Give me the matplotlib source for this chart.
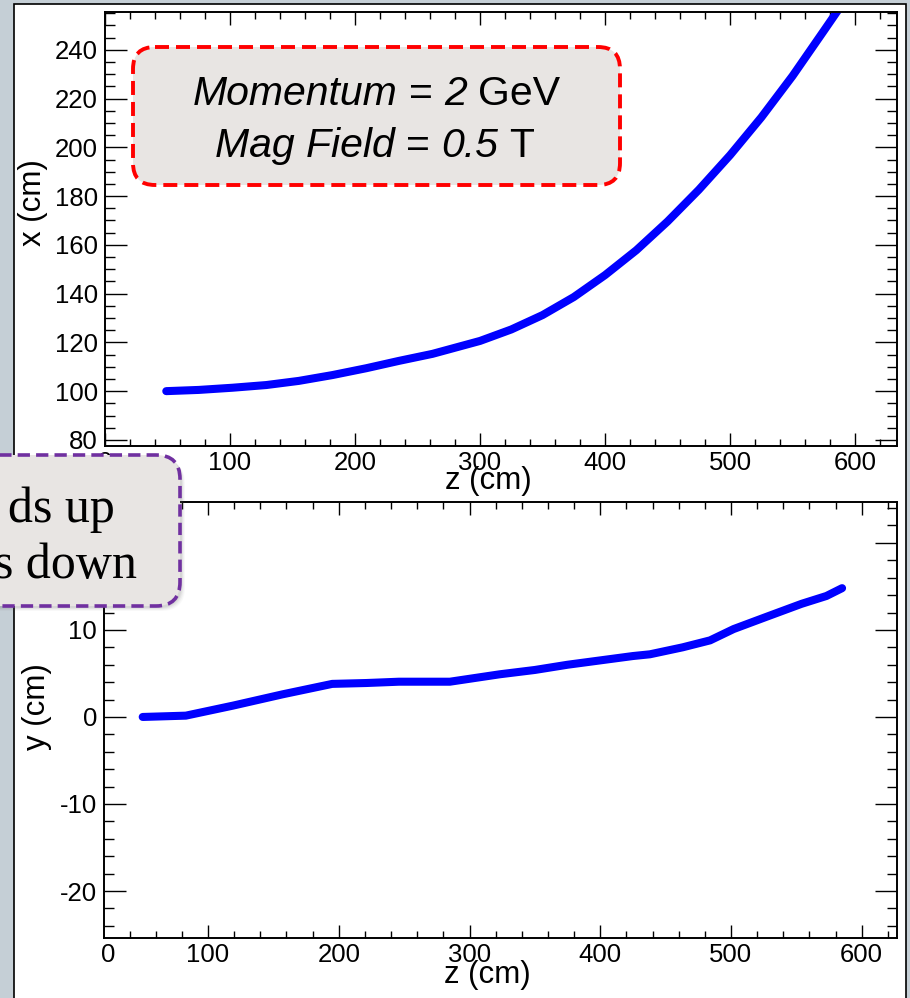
import numpy as np
import matplotlib
matplotlib.use('Agg')
from matplotlib import pyplot as plt
from matplotlib.patches import FancyBboxPatch, Rectangle
from matplotlib.ticker import MultipleLocator

plt.rcParams['font.family'] = ['Liberation Sans', 'DejaVu Sans']
plt.rcParams['axes.unicode_minus'] = False

# track in the x-z plane (cm)
z_top = [49, 75, 102, 129, 155, 182, 209, 235, 262, 300, 325, 350, 375,
         400, 425, 450, 475, 500, 525, 550, 575, 586]
x_top = [100, 100.5, 101.4, 102.5, 104.2, 106.6, 109.4, 112.4, 115.3, 120.6,
         125.3, 131.2, 138.6, 147.6, 157.8, 169.6, 182.6, 196.8, 212.3, 229.3,
         247.8, 256]

# track in the y-z plane (cm)
z_bot = [50, 83, 119, 157, 195, 221, 246, 285, 323, 350, 375, 400, 425,
         438, 463, 484, 502, 527, 554, 573, 585]
y_bot = [0, 0.15, 1.3, 2.6, 3.8, 3.9, 4.05, 4.05, 4.9, 5.4, 6.0, 6.5, 7.0,
         7.2, 8.0, 8.8, 10.1, 11.5, 13.0, 13.9, 14.8]

W, H = 910, 998
SLIDE = '#c5cfd6'
BOXFACE = '#e8e5e3'
TRACK = '#0000ff'
TICKSIZE = 18.5
TITLESIZE = 22.5


def pixAxes(fig, left, top, right, bottom):
	# axes rectangle given in pixel edges (y measured from the top)
	return fig.add_axes([left / W, (H - bottom) / H, (right - left) / W, (bottom - top) / H])


def rootStyle(ax, xmaj, xmin, ymaj, ymin):
	# ROOT-like frame: ticks inside on all four sides
	ax.xaxis.set_major_locator(MultipleLocator(xmaj))
	ax.xaxis.set_minor_locator(MultipleLocator(xmin))
	ax.yaxis.set_major_locator(MultipleLocator(ymaj))
	ax.yaxis.set_minor_locator(MultipleLocator(ymin))
	ax.tick_params(which='both', direction='in', top=True, right=True,
				   width=1.0, labelsize=TICKSIZE, colors='black')
	ax.tick_params(axis='x', which='major', length=9.5, pad=3.5)
	ax.tick_params(axis='x', which='minor', length=5)
	ax.tick_params(axis='y', which='major', length=16, pad=5)
	ax.tick_params(axis='y', which='minor', length=7.5)
	for s in ax.spines.values():
		s.set_linewidth(1.4)


def latexLine(ax, xc, ybase, pieces, size):
	# lay out mixed italic / upright words on one baseline, centred on xc
	r = ax.figure.canvas.get_renderer()
	gap = 0.278 * size * 100 / 72.
	texts = []
	widths = []
	for s, st in pieces:
		t = ax.text(0, ybase, s, fontsize=size, style=st, ha='left', va='baseline')
		texts.append(t)
		widths.append(t.get_window_extent(renderer=r).width)
	total = sum(widths) + gap * (len(pieces) - 1)
	cur = xc - total / 2.
	for t, w in zip(texts, widths):
		t.set_x(cur)
		cur += w + gap


fig = plt.figure(figsize=(W / 100, H / 100), dpi=100)
fig.patch.set_facecolor(SLIDE)

# white canvas behind the two pads
bg = fig.add_axes([0, 0, 1, 1])
bg.set_zorder(-1)
bg.set_xlim(0, W)
bg.set_ylim(H, 0)
bg.axis('off')
bg.add_patch(Rectangle((13.5, 3.5), 892, H + 10, facecolor='white',
					   edgecolor='black', linewidth=1.2))

# x vs z
ax1 = pixAxes(fig, 105, 12, 897, 446)
ax1.plot(z_top, x_top, color=TRACK, lw=5.8, solid_capstyle='round')
ax1.set_xlim(0, 633.5)
ax1.set_ylim(77.5, 255.5)
rootStyle(ax1, 100, 20, 20, 5)
ax1.set_xlabel('z (cm)', fontsize=TITLESIZE)
ax1.xaxis.set_label_coords(0.484, -0.047)
ax1.set_ylabel('x (cm)', fontsize=TITLESIZE)
ax1.yaxis.set_label_coords(-0.072, 0.56)

# y vs z
ax2 = pixAxes(fig, 104, 502, 897, 938)
ax2.plot(z_bot, y_bot, color=TRACK, lw=5.8, solid_capstyle='round')
ax2.set_xlim(20.4, 627)
ax2.set_ylim(-25.4, 24.7)
rootStyle(ax2, 100, 20, 10, 2)
ax2.text(0.005, -0.012, '0', transform=ax2.transAxes, ha='center', va='top', fontsize=TICKSIZE)
ax2.set_xlabel('z (cm)', fontsize=TITLESIZE)
ax2.xaxis.set_label_coords(0.484, -0.05)
ax2.set_ylabel('y (cm)', fontsize=TITLESIZE)
ax2.yaxis.set_label_coords(-0.066, 0.53)

# callouts drawn on top of everything, in pixel coordinates
ov = fig.add_axes([0, 0, 1, 1])
ov.set_zorder(10)
ov.set_xlim(0, W)
ov.set_ylim(H, 0)
ov.axis('off')
ov.patch.set_visible(False)

ov.add_patch(FancyBboxPatch((133, 47), 487, 138, boxstyle='round,pad=0,rounding_size=22',
							facecolor=BOXFACE, edgecolor='#ff0000', linewidth=2.8,
							linestyle=(0, (3.6, 1.8))))
latexLine(ov, 376.5, 105, [('Momentum', 'italic'), ('=', 'normal'),
						   ('2', 'italic'), ('GeV', 'normal')], 29.5)
latexLine(ov, 374.5, 157, [('Mag Field', 'italic'), ('=', 'normal'),
						   ('0.5', 'italic'), ('T', 'normal')], 29.5)

# soft shadow then the purple box
for k, a in enumerate([0.10, 0.08, 0.06, 0.04]):
	ov.add_patch(FancyBboxPatch((-80 + k + 2, 455 + k + 2), 260, 151,
								boxstyle='round,pad=0,rounding_size=24',
								facecolor='#606060', edgecolor='none', alpha=a))
ov.add_patch(FancyBboxPatch((-80, 455), 260, 151, boxstyle='round,pad=0,rounding_size=24',
							facecolor=BOXFACE, edgecolor='#7030a0', linewidth=2.6,
							linestyle=(0, (3.4, 1.7))))
ov.text(115, 522, 'ds up', ha='right', va='baseline', fontsize=36,
		family=['Liberation Serif', 'DejaVu Serif'])
ov.text(137, 578, 's down', ha='right', va='baseline', fontsize=36,
		family=['Liberation Serif', 'DejaVu Serif'])

fig.savefig('out.png', dpi=100, facecolor=fig.get_facecolor())
